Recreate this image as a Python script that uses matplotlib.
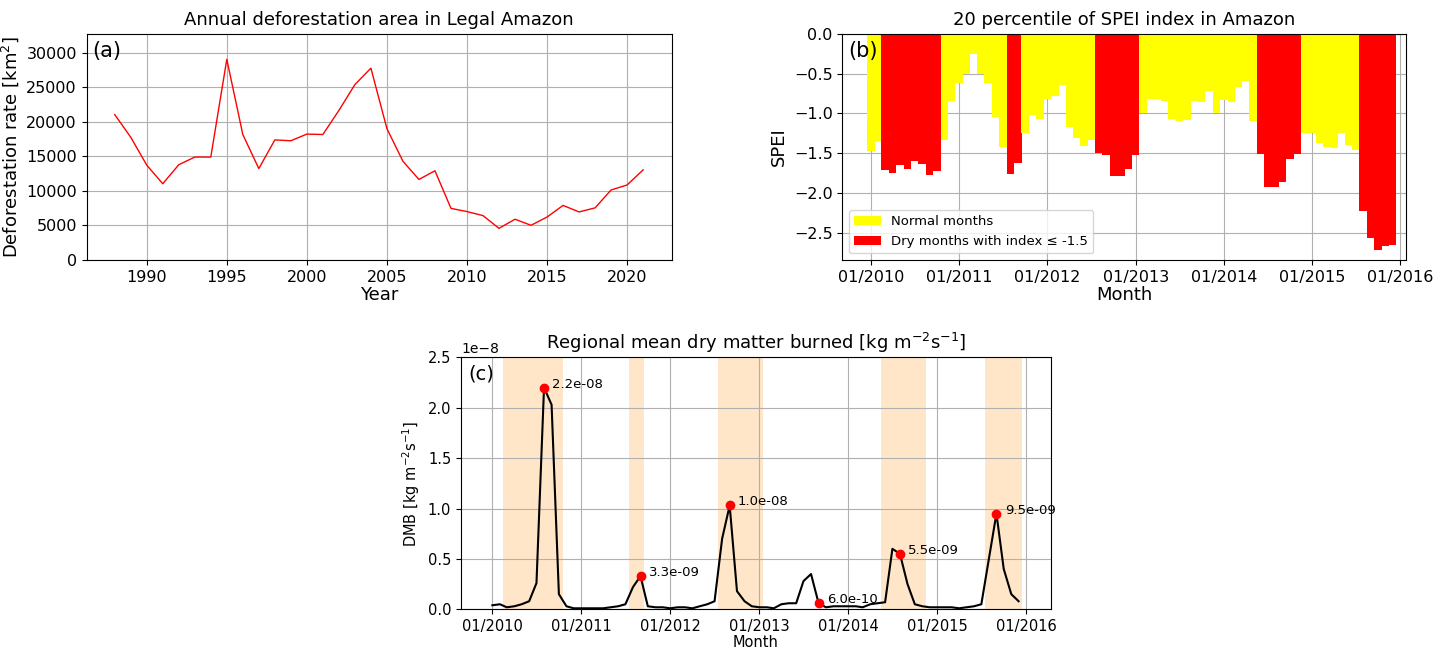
import numpy as np
import pandas as pd
import matplotlib
matplotlib.use("Agg")
import matplotlib.pyplot as plt
import matplotlib.dates as mdates

# (a) annual deforestation, km2
years = np.arange(1988, 2022)
deforest = [21050, 17770, 13730, 11030, 13786, 14896, 14896, 29059, 18161, 13227,
            17383, 17259, 18226, 18165, 21651, 25396, 27772, 19014, 14286, 11651,
            12911, 7464, 7000, 6418, 4571, 5891, 5012, 6207, 7893, 6947,
            7536, 10129, 10851, 13038]

# (b) monthly 20th percentile SPEI, 2010-2015
months = pd.date_range("2010-01-01", "2015-12-01", freq="MS")
spei = [-1.47, -1.35, -1.71, -1.75, -1.65, -1.70, -1.60, -1.63, -1.77, -1.72, -1.34, -0.84,
        -0.62, -0.50, -0.25, -0.50, -0.62, -1.04, -1.42, -1.76, -1.62, -1.24, -1.02, -1.07,
        -0.82, -0.78, -0.64, -1.17, -1.31, -1.41, -1.33, -1.50, -1.52, -1.79, -1.79, -1.70,
        -1.52, -1.00, -0.82, -0.82, -0.84, -1.07, -1.10, -1.08, -0.84, -0.86, -0.72, -1.00,
        -0.83, -0.86, -0.67, -0.59, -1.10, -1.51, -1.93, -1.92, -1.86, -1.57, -1.51, -1.25,
        -1.25, -1.37, -1.42, -1.43, -1.25, -1.40, -1.46, -2.22, -2.56, -2.71, -2.67, -2.65]
threshold = -1.5

# (c) regional mean dry matter burned, kg m-2 s-1 (x1e-8)
dmb = [0.04, 0.05, 0.02, 0.03, 0.05, 0.08, 0.26, 2.20, 2.03, 0.15, 0.03, 0.01,
       0.01, 0.01, 0.01, 0.01, 0.02, 0.03, 0.05, 0.22, 0.33, 0.03, 0.02, 0.02,
       0.01, 0.02, 0.02, 0.01, 0.03, 0.05, 0.08, 0.70, 1.03, 0.18, 0.08, 0.03,
       0.02, 0.02, 0.01, 0.05, 0.06, 0.06, 0.28, 0.35, 0.06, 0.02, 0.03, 0.03,
       0.03, 0.03, 0.02, 0.05, 0.06, 0.07, 0.60, 0.55, 0.25, 0.05, 0.03, 0.02,
       0.02, 0.02, 0.02, 0.01, 0.02, 0.03, 0.05, 0.50, 0.95, 0.40, 0.15, 0.08]
dmb = np.array(dmb) * 1e-8

fig = plt.figure(figsize=(14.45, 6.63), dpi=100)
spei = np.array(spei)
dry = spei <= threshold

# ---- (a)
ax1 = fig.add_axes([0.060, 0.608, 0.405, 0.341])
ax1.plot(years, deforest, color="red", lw=1)
ax1.set_xlim(1986.25, 2022.8)
ax1.set_ylim(0, 32750)
ax1.set_title("Annual deforestation area in Legal Amazon", fontsize=13)
ax1.set_xlabel("Year", fontsize=13, labelpad=1)
ax1.set_ylabel("Deforestation rate [km$^2$]", fontsize=13)
ax1.tick_params(labelsize=11.5)
ax1.grid(True)
ax1.text(0.01, 0.97, "(a)", transform=ax1.transAxes, fontsize=15, va="top")

# ---- (b)
ax2 = fig.add_axes([0.583, 0.608, 0.390, 0.341])
colors = np.where(dry, "red", "yellow")
ax2.bar(months, spei, width=31, color=colors)
ax2.bar([months[0]], [0], color="yellow", label="Normal months")
ax2.bar([months[0]], [0], color="red", label="Dry months with index \u2264 -1.5")
ax2.set_ylim(-2.84, 0)
ax2.set_xlim(pd.Timestamp("2009-09-05"), pd.Timestamp("2016-01-25"))
ax2.xaxis.set_major_locator(mdates.YearLocator())
ax2.xaxis.set_major_formatter(mdates.DateFormatter("%m/%Y"))
ax2.set_title("20 percentile of SPEI index in Amazon", fontsize=13)
ax2.set_xlabel("Month", fontsize=13, labelpad=1)
ax2.set_ylabel("SPEI", fontsize=13)
ax2.tick_params(labelsize=11.5)
ax2.grid(True)
ax2.set_axisbelow(True)
ax2.legend(loc="lower left", fontsize=9.5)
ax2.text(0.01, 0.97, "(b)", transform=ax2.transAxes, fontsize=15, va="top")

# ---- (c)
ax3 = fig.add_axes([0.319, 0.081, 0.408, 0.380])
half = pd.Timedelta(days=15)
i = 0
while i < len(dry):
    if dry[i]:
        j = i
        while j + 1 < len(dry) and dry[j + 1]:
            j += 1
        ax3.axvspan(months[i] - half, months[j] + half, color="bisque", alpha=0.9, lw=0)
        i = j + 1
    else:
        i += 1
ax3.plot(months, dmb, color="black", lw=1.5)
peaks = [7, 20, 32, 44, 55, 68]
ax3.plot(months[peaks], dmb[peaks], "o", color="red", ms=6)
for p in peaks:
    ax3.annotate(f"{dmb[p]:.1e}", (months[p], dmb[p]), xytext=(6, 0),
                 textcoords="offset points", fontsize=9.5)
ax3.set_ylim(0, 2.5e-8)
ax3.set_xlim(pd.Timestamp("2009-08-25"), pd.Timestamp("2016-04-10"))
ax3.xaxis.set_major_locator(mdates.YearLocator())
ax3.xaxis.set_major_formatter(mdates.DateFormatter("%m/%Y"))
ax3.set_title("Regional mean dry matter burned [kg m$^{-2}$s$^{-1}$]", fontsize=13)
ax3.set_xlabel("Month", fontsize=10.5, labelpad=1)
ax3.set_ylabel("DMB [kg m$^{-2}$s$^{-1}$]", fontsize=10.5)
ax3.tick_params(labelsize=10.5)
ax3.grid(True)
ax3.text(0.012, 0.97, "(c)", transform=ax3.transAxes, fontsize=14, va="top")

fig.savefig("out.png", dpi=100)
